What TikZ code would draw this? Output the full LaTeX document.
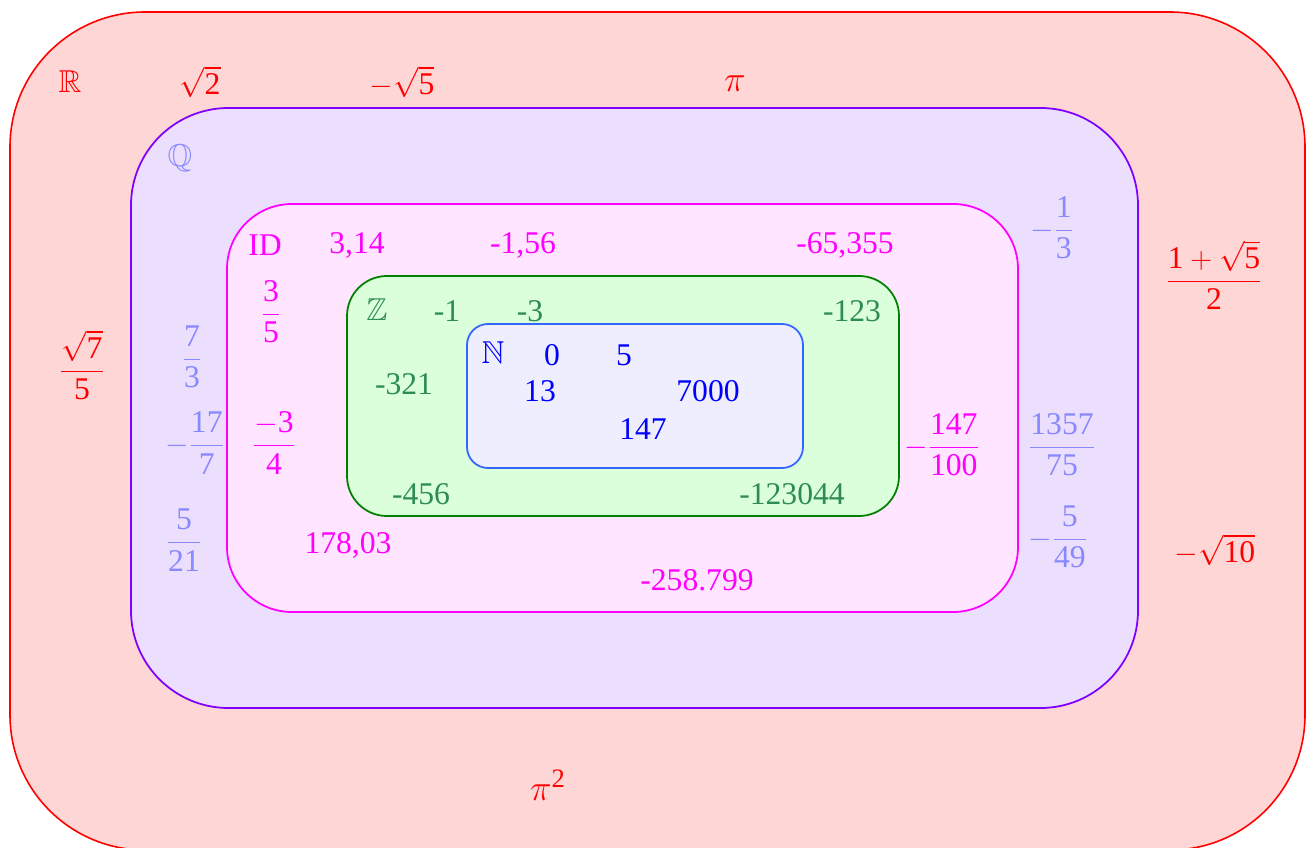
\documentclass[tikz,border=0pt]{standalone}
\usepackage{amsmath}
\usepackage{amssymb}
\usepackage{fontspec}
\setmainfont{Liberation Serif}

\definecolor{realfill}{RGB}{255,214,214}
\definecolor{ratfill}{RGB}{236,222,253}
\definecolor{ratline}{RGB}{128,0,255}
\definecolor{ratlabel}{RGB}{136,136,255}
\definecolor{decline}{RGB}{255,0,255}
\definecolor{decfill}{RGB}{255,229,255}
\definecolor{intfill}{RGB}{218,255,218}
\definecolor{intline}{RGB}{0,128,0}
\definecolor{intlabel}{RGB}{46,139,87}
\definecolor{natfill}{RGB}{238,238,255}
\definecolor{natline}{RGB}{51,102,255}

\newcommand{\fr}[2]{\ensuremath{\dfrac{\text{#1}}{\text{#2}}}}

\begin{document}
\begin{tikzpicture}[x=0.02cm, y=-0.02cm,
    every node/.style={font=\fontsize{18}{22}\selectfont, inner sep=1pt},
    rlab/.style={text=red},
    qlab/.style={text=ratlabel},
    dlab/.style={text=decline},
    zlab/.style={text=intlabel},
    nlab/.style={text=blue}]
            % Frame
            \useasboundingbox (0,0) rectangle (1306,848);
            \clip (0,0) rectangle (1306,848);

            % Nested sets
            \draw[red, fill=realfill, line width=0.9pt, rounded corners=2.7cm] (10,12) rectangle (1305,850);
            \draw[ratline, fill=ratfill, line width=1pt, rounded corners=1.95cm] (131,108) rectangle (1138,708);
            \draw[decline, fill=decfill, line width=1pt, rounded corners=1.3cm] (227,204) rectangle (1018,612);
            \draw[intline, fill=intfill, line width=1pt, rounded corners=0.8cm] (347,276) rectangle (899,516);
            \draw[natline, fill=natfill, line width=1pt, rounded corners=0.42cm] (467,324) rectangle (803,468);

            % Real numbers
            \node[rlab] (R) at (70,82) {$\mathbb{R}$};
            \node[rlab] (sqrt2) at (200,82) {$\sqrt{\text{2}}$};
            \node[rlab] (msqrt5) at (402,82) {$-\sqrt{\text{5}}$};
            \node[rlab, scale=1.2] (pi) at (735,84) {$\pi$};
            \node[rlab] (golden) at (1214,275) {\ensuremath{\dfrac{\text{1}+\sqrt{\text{5}}}{\text{2}}}};
            \node[rlab] (sqrt7) at (82,365) {\ensuremath{\dfrac{\sqrt{\text{7}}}{\text{5}}}};
            \node[rlab] (msqrt10) at (1215,550) {$-\sqrt{\text{10}}$};
            \node[rlab, scale=1.2] (pisq) at (548,785) {$\pi^{\text{2}}$};

            % Rationals
            \node[qlab] (Q) at (180,158) {$\mathbb{Q}$};
            \node[qlab] (q1) at (1052,228) {$-$\fr{1}{3}};
            \node[qlab] (q2) at (192,357) {\fr{7}{3}};
            \node[qlab] (q3) at (195,443) {$-$\fr{17}{7}};
            \node[qlab] (q4) at (184,540) {\fr{5}{21}};
            \node[qlab] (q5) at (1062,445) {\fr{1357}{75}};
            \node[qlab] (q6) at (1058,537) {$-$\fr{5}{49}};

            % Decimals
            \node[dlab] (D) at (265,245) {ID};
            \node[dlab] (d1) at (357,245) {3,14};
            \node[dlab] (d2) at (523,245) {-1,56};
            \node[dlab] (d3) at (845,245) {-65,355};
            \node[dlab] (d4) at (271,312) {\fr{3}{5}};
            \node[dlab] (d5) at (274,443) {\ensuremath{\dfrac{-\text{3}}{\text{4}}}};
            \node[dlab] (d6) at (942,445) {$-$\fr{147}{100}};
            \node[dlab] (d7) at (348,545) {178,03};
            \node[dlab] (d8) at (697,580) {-258.799};

            % Integers
            \node[zlab] (Z) at (377,310) {$\mathbb{Z}$};
            \node[zlab] (z1) at (447,311) {-1};
            \node[zlab] (z2) at (530,311) {-3};
            \node[zlab] (z3) at (852,311) {-123};
            \node[zlab] (z4) at (404,384) {-321};
            \node[zlab] (z5) at (421,494) {-456};
            \node[zlab] (z6) at (792,494) {-123044};

            % Naturals
            \node[nlab] (N) at (493,353) {$\mathbb{N}$};
            \node[nlab] (n1) at (552,355) {0};
            \node[nlab] (n2) at (624,355) {5};
            \node[nlab] (n3) at (540,391) {13};
            \node[nlab] (n4) at (708,391) {7000};
            \node[nlab] (n5) at (643,429) {147};
        \end{tikzpicture}
\end{document}
